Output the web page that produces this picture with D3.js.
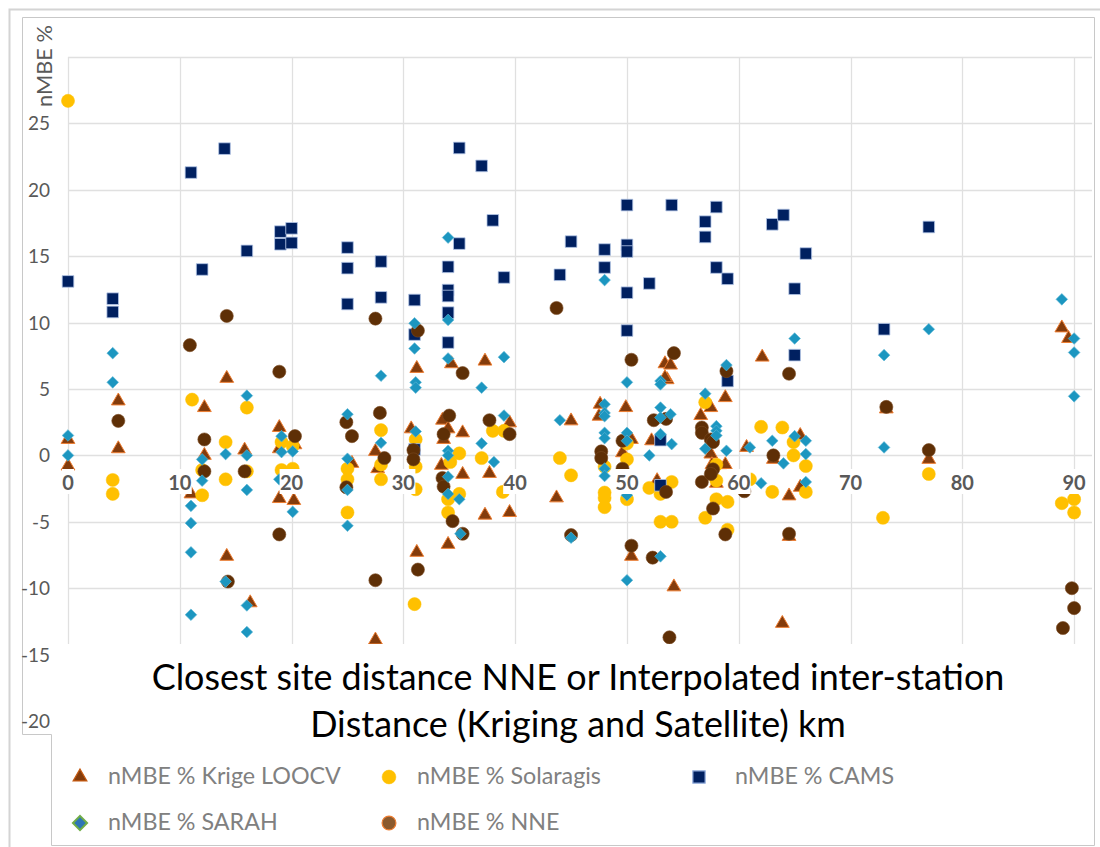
<!DOCTYPE html>
<html>
<head>
<meta charset="utf-8">
<script src="https://cdn.jsdelivr.net/npm/d3@7/dist/d3.min.js"></script>
<style>
  body { margin: 0; background: #fff; }
  text { font-family: Lato, "Open Sans", sans-serif; }
</style>
</head>
<body>
<div id="chart"></div>
<script>
// data: [distance km, nMBE %]
var krige = [[0,1.2],[0,-0.8],[4.5,4.1],[4.5,0.5],[11,-2.9],[12.2,3.6],[12.2,0.0],[14.2,5.8],[14.2,-7.6],[15.8,0.4],[16.3,-11.1],
  [18.9,2.1],[18.9,0.5],[18.9,-3.25],[20.3,0.8],[20.2,-3.4],[25.4,-0.6],[27.5,0.3],[27.7,-1.0],[27.5,-13.9],[31.2,6.55],[30.7,2.0],
  [31.2,-7.3],[34.3,6.9],[33.5,2.65],[34,2.0],[33.6,1.2],[33.4,-0.75],[34,-6.7],[35.3,1.7],[35.3,-1.43],[37.3,7.1],[37.7,-1.36],
  [37.3,-4.5],[39.5,2.45],[39.5,-4.3],[43.7,-3.2],[45,2.6],[47.6,3.85],[47.5,2.95],[49.9,3.6],[50.4,1.2],[49.6,0.2],[50.4,-7.6],
  [52.2,1.1],[52.7,-1.9],[53.4,6.9],[53.9,6.8],[53.6,5.7],[53.4,5.85],[54.2,-9.9],[56.6,3.0],[57.5,3.6],[57.5,0.1],[57.6,-0.7],
  [58,-2.1],[58.8,4.35],[58.8,-0.7],[60.7,0.6],[62.1,7.4],[63.1,-0.3],[64.5,-3.05],[65.5,-2.4],[65.5,1.5],[64.5,-6.1],[63.9,-12.65],
  [73.2,3.5],[77,-0.3],[88.9,9.6],[89.5,8.8]]

var solaragis = [[0,26.7],[4,-1.85],[4,-2.9],[11.1,4.2],[12,-1.1],[12,-3.0],[14.1,1.0],[14.1,-1.8],[16,3.6],[16,-1.2],[19.1,1.0],
  [19.1,-1.1],[20.1,0.7],[20.1,-1.0],[25,-1.0],[25,-1.8],[25,-4.3],[28,1.9],[28,-0.7],[28,-1.8],[31.1,1.2],[31.1,-0.85],[31.1,-2.55],
  [31,-11.2],[34.2,-0.5],[34,-3.3],[34,-4.3],[35,0.15],[35,-2.9],[37,-0.2],[38,1.85],[39,1.85],[38.9,-2.75],[44,-0.2],[45,-1.5],
  [48,-0.85],[48,-2.8],[48,-3.2],[48,-3.9],[50,0.9],[50,-0.3],[50,-3.3],[52,-2.45],[53,-2.9],[54,-2.0],[53,-5.0],[54,-5.0],[57,4.0],
  [58,-0.7],[58,-1.9],[58,-3.3],[57,-4.7],[59,-3.5],[59,-5.6],[61,-1.8],[62,2.15],[63,-2.75],[63.9,2.1],[64.9,1.0],[64.9,0.0],
  [66,-0.8],[66,-2.75],[72.9,-4.7],[77,-1.4],[88.9,-3.6],[90,-3.3],[90,-4.3]]

var cams = [[0,13.1],[4,11.8],[4,10.8],[11,21.3],[12,14.0],[14,23.1],[16,15.4],[19,16.85],[19,15.9],[20,17.1],[20,16.0],[25,15.65],
  [25,14.1],[25,11.4],[28,14.6],[28,11.9],[31,11.7],[31,9.1],[31,0.45],[34,14.2],[34,12.45],[34,12.0],[34,10.75],[34,8.5],[35,23.15],
  [35,15.95],[37,21.8],[38,17.7],[39,13.4],[44,13.6],[45,16.1],[48,15.5],[48,14.15],[50,18.85],[50,15.85],[50,15.35],[50,12.25],
  [50,9.4],[52,12.95],[53,1.15],[53,-2.25],[54,18.85],[57,17.6],[57,16.45],[58,18.7],[58,14.15],[59,13.3],[59,5.6],[63,17.4],
  [64,18.1],[65,12.55],[65,7.55],[66,15.2],[73,9.5],[77,17.2]]

var sarah = [[0,1.5],[0,0],[0,-2.3],[4,7.7],[4,5.5],[11,-3.8],[11,-5.1],[11,-7.3],[11,-12],[12,-0.3],[12,-1.9],[14.1,0.1],[14.1,-9.5],
  [16,4.5],[16,0],[16,-2.6],[16,-11.3],[16,-13.3],[19.1,1.45],[19.1,0.25],[18.9,-1.8],[20.1,0.3],[20.1,-4.25],[25,3.1],[25,-0.25],
  [25,-2.6],[25,-5.3],[28,6.0],[28,0.95],[31,9.95],[31,8.05],[31.1,5.5],[31.1,5.1],[31.1,1.8],[34,16.4],[34,10.2],[34,7.3],[34,0.35],
  [34,0.0],[34,-1.6],[34,-2.9],[35,-3.3],[35.1,-5.9],[37,5.1],[37,0.9],[38.1,-0.5],[39,7.4],[39,3.0],[44,2.65],[45,-6.2],[48,13.2],
  [48,3.85],[48,3.2],[48,2.95],[48,1.7],[48,1.3],[48,-1.0],[48,-1.55],[50,5.5],[50,1.7],[50,1.1],[50,-3.0],[50,-9.4],[52,0.0],
  [53,5.6],[53,5.35],[53,3.6],[53,2.85],[53,1.6],[53,-7.6],[53.9,3.1],[54,0.85],[57,4.65],[57,0.5],[58,2.2],[58,1.85],[58,1.5],
  [58.9,6.8],[58.9,0.35],[61,0.6],[62,-2.1],[63,1.1],[64,-0.6],[65,8.8],[65,1.45],[66,1.1],[66,0.1],[66,-2.0],[73,7.55],[73,0.6],
  [77,9.5],[88.9,11.75],[90,8.8],[90,7.75],[90,4.45]]

var nne = [[4.5,2.6],[10.9,8.3],[12.2,1.2],[12.2,-1.2],[14.2,10.5],[14.3,-9.5],[15.8,-1.2],[18.9,6.3],[18.9,-5.95],[20.3,1.45],
  [24.9,2.5],[25.4,1.45],[24.9,-2.4],[27.5,10.3],[27.5,-9.4],[27.9,3.2],[28.3,-0.2],[31.3,9.4],[30.9,0.4],[30.9,-0.3],[31.3,-8.6],
  [34.1,3.0],[33.6,1.6],[33.5,-1.7],[33.6,-2.35],[34.4,-4.95],[35.3,-5.9],[35.3,6.2],[37.7,2.65],[39.5,1.6],[43.7,11.1],[45,-6.0],
  [47.7,0.3],[47.7,-0.2],[49.6,1.1],[49.6,-1.0],[50.4,7.2],[50.4,-6.8],[52.4,2.65],[52.3,-7.7],[53.5,2.75],[53.5,-2.75],[53.8,-13.7],
  [54.2,7.7],[56.7,2.1],[56.7,1.7],[56.7,-2.0],[57.5,1.2],[57.7,1.0],[57.7,-1.05],[57.5,-1.4],[57.7,-4.0],[58.9,6.35],[58.8,-5.95],
  [60.5,-2.7],[63.1,0.0],[64.5,6.15],[64.5,-5.9],[73.2,3.65],[77,0.4],[89.8,-10.0],[90,-11.5],[89,-13.0]]

var xTicks = [0,10,20,30,40,50,60,70,80,90]
var yTicks = [-20,-15,-10,-5,0,5,10,15,20,25]
var yGrid = [-20,-15,-10,-5,0,5,10,15,20,25,30]
var legendNames = ['nMBE % Krige LOOCV','nMBE % Solaragis','nMBE % CAMS','nMBE % SARAH','nMBE % NNE']
var titleLines = ['Closest site distance NNE or Interpolated inter-station','Distance (Kriging and Satellite) km']

var width = 1100, height = 847
var svg = d3.select('#chart').append('svg').attr('width', width).attr('height', height)

var x = d3.scaleLinear().domain([0, 91.6]).range([68, 1092])
var y = d3.scaleLinear().domain([-20, 30]).range([721, 57])

// text fit helper (Calibri is not installed)
function fit(sel, target) {
  var w = sel.node().getComputedTextLength()
  var fs = parseFloat(sel.attr('font-size'))
  var s = fs * target / w
  sel.attr('font-size', s)
  return s
}

// frames
svg.append('path').attr('d', 'M9.5,847V9.5H1100').attr('fill', 'none').attr('stroke', '#d4d4d4').attr('stroke-width', 2)
svg.append('path').attr('d', 'M22.5,734.5V17.5H1094.5V845.5H51.5V734.5H22.5').attr('fill', 'none').attr('stroke', '#c8c8c8')

// grid
svg.append('g').selectAll('line').data(yGrid).enter().append('line')
  .attr('x1', x(0)).attr('x2', 1092)
  .attr('y1', function (d) { return Math.round(y(d)) + 0.5 })
  .attr('y2', function (d) { return Math.round(y(d)) + 0.5 })
  .attr('stroke', '#e0e0e0').attr('stroke-width', 1.3)
svg.append('g').selectAll('line').data(xTicks).enter().append('line')
  .attr('x1', function (d) { return Math.round(x(d)) + 0.5 })
  .attr('x2', function (d) { return Math.round(x(d)) + 0.5 })
  .attr('y1', y(30)).attr('y2', y(-20))
  .attr('stroke', '#e0e0e0').attr('stroke-width', 1.3)

// markers
var tri = d3.symbol().type(d3.symbolTriangle).size(82)
var circ = d3.symbol().type(d3.symbolCircle).size(135)
var sq = d3.symbol().type(d3.symbolSquare).size(135)
var dia = d3.symbol().type(d3.symbolSquare).size(68)

function series(data, sym, fill, stroke, sw, rot) {
  svg.append('g').selectAll('path').data(data).enter().append('path')
    .attr('d', sym)
    .attr('transform', function (d) {
      return 'translate(' + x(d[0]) + ',' + y(d[1]) + ')' + (rot ? ' rotate(45)' : '')
    })
    .attr('fill', fill).attr('stroke', stroke).attr('stroke-width', sw)
}
series(krige, tri, '#843c0c', '#ed7d31', 1, false)
series(solaragis, circ, '#ffc000', '#ffc000', 0.5, false)
series(cams, sq, '#002060', '#b4c7e7', 0.8, false)
series(nne, circ, '#5e2f06', '#7a4a22', 0.6, false)
series(sarah, dia, '#1c96c0', '#5fb7d6', 0.6, true)

// x tick labels sit on the zero line with white boxes
var xl = svg.append('g').selectAll('g').data(xTicks).enter().append('g')
xl.append('rect')
  .attr('x', function (d) { return x(d) - (d === 0 ? 6 : 12) })
  .attr('width', function (d) { return d === 0 ? 12 : 24 })
  .attr('y', 469).attr('height', 25).attr('fill', '#fff')
xl.append('text')
  .attr('x', function (d) { return x(d) }).attr('y', 490)
  .attr('text-anchor', 'middle').attr('font-size', 20).attr('font-weight', 'bold')
  .attr('fill', '#595959').text(function (d) { return d })

// white boxes over the bottom of the plot (axis title and legend)
svg.append('rect').attr('x', 60).attr('y', 644).attr('width', 1034).attr('height', 91).attr('fill', '#fff')
svg.append('rect').attr('x', 52).attr('y', 735).attr('width', 1042).attr('height', 110).attr('fill', '#fff')

// y tick labels
svg.append('g').selectAll('text').data(yTicks).enter().append('text')
  .attr('x', 50).attr('y', function (d) { return y(d) + 7 })
  .attr('text-anchor', 'end').attr('font-size', 19).attr('fill', '#595959')
  .text(function (d) { return d })

// y axis title
var yt = svg.append('text').attr('transform', 'translate(52,66) rotate(-90)')
  .attr('text-anchor', 'middle').attr('font-size', 22).attr('fill', '#595959').text('nMBE %')
fit(yt, 82)

// x axis title
var t1 = svg.append('text').attr('x', 578).attr('y', 690).attr('text-anchor', 'middle')
  .attr('font-size', 32).attr('fill', '#000').text(titleLines[0])
var ts = fit(t1, 853)
svg.append('text').attr('x', 578).attr('y', 737).attr('text-anchor', 'middle')
  .attr('font-size', ts).attr('fill', '#000').text(titleLines[1])

// legend
var legendPos = [[80, 777], [389, 777], [699, 777], [80, 823], [389, 823]]
var legendSym = [
  { s: tri, fill: '#843c0c', stroke: '#c55a11', sw: 1.2, rot: false },
  { s: d3.symbol().type(d3.symbolCircle).size(150), fill: '#ffc000', stroke: '#ffc000', sw: 0.5, rot: false },
  { s: d3.symbol().type(d3.symbolSquare).size(150), fill: '#002060', stroke: '#8faadc', sw: 1.2, rot: false },
  { s: d3.symbol().type(d3.symbolSquare).size(100), fill: '#2e75b6', stroke: '#70ad47', sw: 2, rot: true },
  { s: d3.symbol().type(d3.symbolCircle).size(150), fill: '#8b5a2e', stroke: '#ed7d31', sw: 1.2, rot: false }
]
var lg = svg.append('g').selectAll('g').data(legendNames).enter().append('g')
lg.append('path')
  .attr('d', function (d, i) { return legendSym[i].s() })
  .attr('transform', function (d, i) {
    return 'translate(' + legendPos[i][0] + ',' + legendPos[i][1] + ')' + (legendSym[i].rot ? ' rotate(45)' : '')
  })
  .attr('fill', function (d, i) { return legendSym[i].fill })
  .attr('stroke', function (d, i) { return legendSym[i].stroke })
  .attr('stroke-width', function (d, i) { return legendSym[i].sw })
var lt = lg.append('text')
  .attr('x', function (d, i) { return legendPos[i][0] + (i === 2 ? 36 : 28) })
  .attr('y', function (d, i) { return legendPos[i][1] + 7 })
  .attr('font-size', 21).attr('fill', '#808080')
  .text(function (d) { return d })
var ls = fit(d3.select(lt.nodes()[0]), 233)
lt.attr('font-size', ls)
</script>
</body>
</html>
